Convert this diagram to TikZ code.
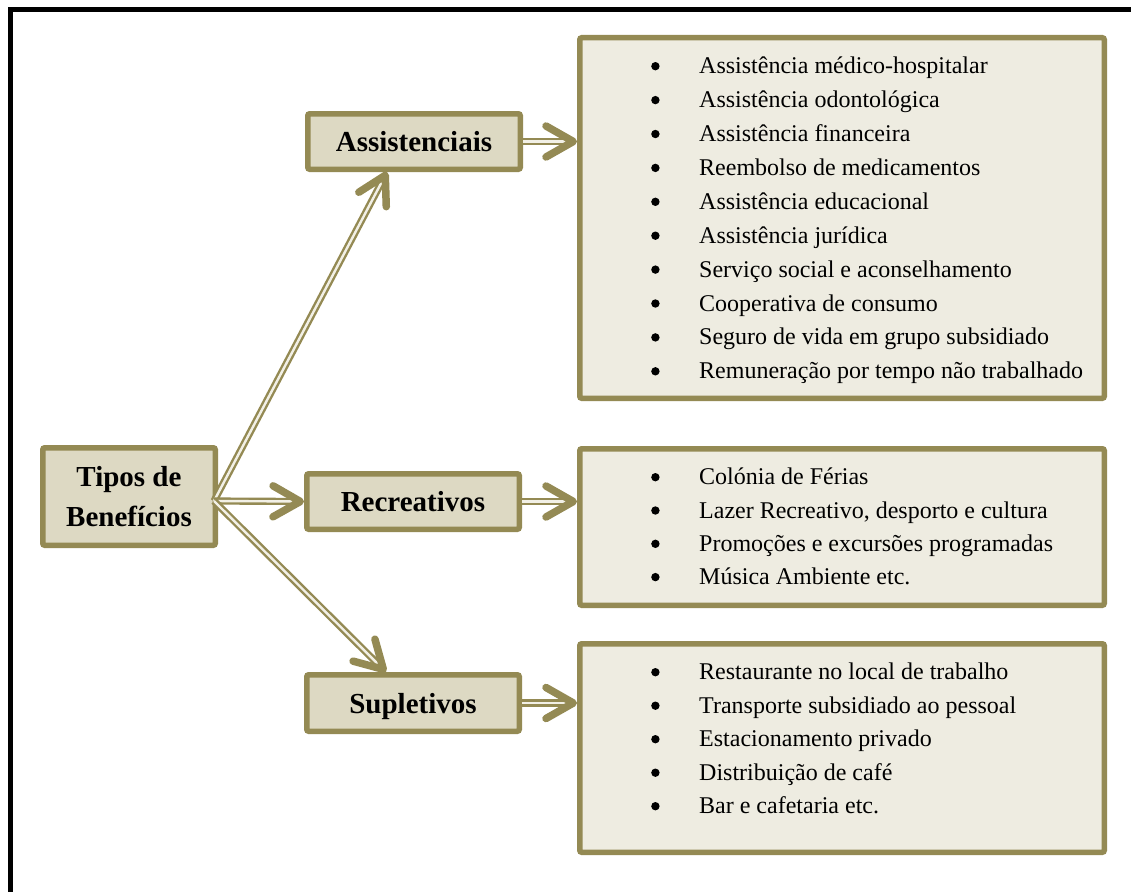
\documentclass[tikz,border=0pt]{standalone}
\usepackage{fontspec}
\setmainfont{Liberation Serif}
\usetikzlibrary{decorations.markings,calc}
\definecolor{olive}{HTML}{948A54}
\definecolor{boxfill}{HTML}{DDD9C3}
\definecolor{listfill}{HTML}{EEECE1}
\definecolor{shaftin}{HTML}{F2F0E6}
\tikzset{
  catbox/.style={draw=olive, line width=5.5pt, fill=boxfill, rounded corners=2pt,
    font=\fontsize{29}{39.3}\selectfont\bfseries, align=center, inner sep=0pt},
  oneline/.style={text height=20pt, text depth=0pt},
  listbox/.style={draw=olive, line width=5.5pt, fill=listfill, rounded corners=2pt, inner sep=0pt},
  listtext/.style={align=left, inner sep=0pt, anchor=north west},
  conn/.style={
    preaction={draw=olive, line width=2.4pt, double=shaftin, double distance=2.4pt, shorten >=6pt},
    postaction={decorate, decoration={markings, mark=at position 1 with {
      \draw[olive, line width=7.5pt, line cap=round, line join=round] (-31,15.5) -- (-3.7,0) -- (-31,-15.5);}}}}
}
\newcommand{\itm}[1]{\makebox[48pt][l]{\raisebox{3.3pt}{\tikz[x=1pt,y=1pt]\fill[black] (0,0) circle (4.2pt);}}#1}
\begin{document}
\begin{tikzpicture}[x=1pt, y=-1pt]
\useasboundingbox (0,0) rectangle (1131,891);
\fill[white] (0,0) rectangle (1131,891);
\draw[black, line width=5pt] (1140,10) -- (10,10) -- (10,900);

% category boxes
\node[catbox, minimum width=172.5pt, minimum height=97.5pt] (tipos) at (129,496.5) {Tipos de\\Benefícios};
\node[catbox, oneline, minimum width=212.5pt, minimum height=55.5pt] (assist) at (414,141.5) {Assistenciais};
\node[catbox, oneline, minimum width=212.5pt, minimum height=55.5pt] (recr) at (413,501.5) {Recreativos};
\node[catbox, oneline, minimum width=212.5pt, minimum height=56.5pt] (supl) at (413,703) {Supletivos};

% list boxes
\node[listbox, minimum width=524.5pt, minimum height=360.5pt] (lbox1) at (842,218) {};
\node[listbox, minimum width=524.5pt, minimum height=156.5pt] (lbox2) at (842,527) {};
\node[listbox, minimum width=524.5pt, minimum height=208.5pt] (lbox3) at (842,748) {};

\node[listtext, font=\fontsize{24}{33.9}\selectfont] (list1) at (651,53.5) {\rule{0pt}{20pt}\itm{Assistência médico-hospitalar}\\
\itm{Assistência odontológica}\\
\itm{Assistência financeira}\\
\itm{Reembolso de medicamentos}\\
\itm{Assistência educacional}\\
\itm{Assistência jurídica}\\
\itm{Serviço social e aconselhamento}\\
\itm{Cooperativa de consumo}\\
\itm{Seguro de vida em grupo subsidiado}\\
\itm{Remuneração por tempo não trabalhado}};

\node[listtext, font=\fontsize{24}{33.3}\selectfont] (list2) at (651,464.5) {\rule{0pt}{20pt}\itm{Colónia de Férias}\\
\itm{Lazer Recreativo, desporto e cultura}\\
\itm{Promoções e excursões programadas}\\
\itm{Música Ambiente etc.}};

\node[listtext, font=\fontsize{24}{33.5}\selectfont] (list3) at (651,659.5) {\rule{0pt}{20pt}\itm{Restaurante no local de trabalho}\\
\itm{Transporte subsidiado ao pessoal}\\
\itm{Estacionamento privado}\\
\itm{Distribuição de café}\\
\itm{Bar e cafetaria etc.}};

% connectors
\coordinate (src) at (214,501);
\path[conn] (src) -- ([xshift=-27pt]assist.south);
\path[conn] (src) -- (recr.west);
\path[conn] (src) -- ([xshift=-27pt]supl.north);
\path[conn] (assist.east) -- (lbox1.west |- assist.east);
\path[conn] (recr.east) -- (lbox2.west |- recr.east);
\path[conn] (supl.east) -- (lbox3.west |- supl.east);
\end{tikzpicture}
\end{document}
